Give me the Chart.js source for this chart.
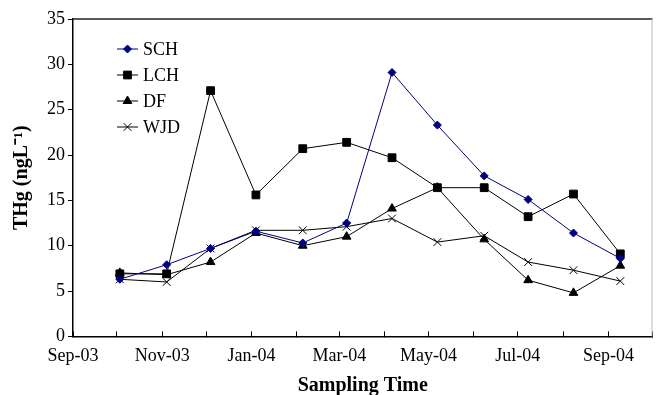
<!DOCTYPE html>
<html>
<head>
<meta charset="utf-8">
<script src="https://cdn.jsdelivr.net/npm/chart.js@4.4.1/dist/chart.umd.min.js"></script>
<style>
  html, body { margin: 0; padding: 0; background: #fff; }
  #wrap { width: 659px; height: 395px; }
</style>
</head>
<body>
<div id="wrap"><canvas id="chart" width="659" height="395"></canvas></div>
<script>
// sampling dates (one per month) and THg values, ng/L
var sampleDates = ['2003-10-03', '2003-11-04', '2003-12-04', '2004-01-04', '2004-02-05', '2004-03-06',
                   '2004-04-06', '2004-05-07', '2004-06-08', '2004-07-08', '2004-08-08', '2004-09-09'];
var schValues = [6.3, 7.9, 9.7, 11.6, 10.3, 12.5, 29.1, 23.3, 17.7, 15.1, 11.4, 8.6];
var lchValues = [6.9, 6.9, 27.1, 15.6, 20.7, 21.4, 19.7, 16.4, 16.4, 13.2, 15.7, 9.1];
var dfValues  = [7.0, 6.8, 8.2, 11.4, 10.0, 11.0, 14.1, 16.4, 10.7, 6.2, 4.8, 7.8];
var wjdValues = [6.3, 6.0, 9.7, 11.7, 11.7, 12.1, 13.0, 10.4, 11.1, 8.2, 7.3, 6.1];

// x axis: a tick every month, a label every second month
var tickMonths = ['2003-09-01', '2003-10-01', '2003-11-01', '2003-12-01', '2004-01-01', '2004-02-01', '2004-03-01',
                  '2004-04-01', '2004-05-01', '2004-06-01', '2004-07-01', '2004-08-01', '2004-09-01', '2004-10-01'];
var tickLabels = ['Sep-03', '', 'Nov-03', '', 'Jan-04', '', 'Mar-04', '', 'May-04', '', 'Jul-04', '', 'Sep-04', ''];

var SERIF = "'Times New Roman', 'Liberation Serif', serif";

function dayNum(s) {
    var p = s.split('-');
    return (Date.UTC(+p[0], +p[1] - 1, +p[2]) - Date.UTC(2003, 8, 1)) / 86400000;
}
var xDays = sampleDates.map(dayNum);
var tickDays = tickMonths.map(dayNum);

function pts(vals) {
    return vals.map(function (v, i) { return { x: xDays[i], y: v }; });
}

// top + right frame of the plot
var framePlugin = {
    id: 'frame',
    afterDraw: function (chart) {
        var a = chart.chartArea, ctx = chart.ctx;
        ctx.save();
        ctx.lineWidth = 1.5;
        ctx.strokeStyle = '#222';
        ctx.beginPath();
        ctx.moveTo(a.left, a.top);
        ctx.lineTo(a.right, a.top);
        ctx.stroke();
        ctx.lineWidth = 1;
        ctx.strokeStyle = '#bbb';
        ctx.beginPath();
        ctx.moveTo(a.right - 0.5, a.top);
        ctx.lineTo(a.right - 0.5, a.bottom);
        ctx.stroke();
        ctx.restore();
    }
};

// legend inside the plot, line + marker + label
var insideLegend = {
    id: 'insideLegend',
    afterDraw: function (chart) {
        var a = chart.chartArea, ctx = chart.ctx;
        ctx.save();
        ctx.font = '18px ' + SERIF;
        ctx.textBaseline = 'middle';
        chart.data.datasets.forEach(function (ds, i) {
            var y = a.top + 30 + i * 26;
            var x0 = a.left + 44, x1 = a.left + 65;
            ctx.strokeStyle = ds.borderColor;
            ctx.lineWidth = 1;
            ctx.beginPath();
            ctx.moveTo(x0, y);
            ctx.lineTo(x1, y);
            ctx.stroke();
            ctx.fillStyle = ds.pointBackgroundColor;
            ctx.strokeStyle = ds.pointBorderColor;
            ctx.lineWidth = 1;
            Chart.helpers.drawPoint(ctx, { pointStyle: ds.pointStyle, radius: ds.pointRadius, borderWidth: 1, rotation: 0 }, (x0 + x1) / 2, y);
            ctx.fillStyle = '#000';
            ctx.fillText(ds.label, a.left + 70, y + 1);
        });
        ctx.restore();
    }
};

function series(label, vals, color, style, r) {
    return {
        label: label,
        data: pts(vals),
        borderColor: color,
        backgroundColor: color,
        borderWidth: 1,
        pointStyle: style,
        pointRadius: r,
        pointHoverRadius: r,
        pointBackgroundColor: color,
        pointBorderColor: color,
        pointBorderWidth: 1,
        tension: 0
    };
}

new Chart(document.getElementById('chart'), {
    type: 'line',
    data: {
        datasets: [
            series('SCH', schValues, '#000080', 'rectRot', 4),
            series('LCH', lchValues, '#000000', 'rect', 5.5),
            series('DF', dfValues, '#000000', 'triangle', 5),
            series('WJD', wjdValues, '#000000', 'crossRot', 5.5)
        ]
    },
    options: {
        responsive: false,
        animation: false,
        layout: { padding: { top: 19, right: 1, left: 10, bottom: 0 } },
        plugins: { legend: { display: false }, tooltip: { enabled: false } },
        scales: {
            x: {
                type: 'linear',
                min: 0,
                max: tickDays[tickDays.length - 1],
                afterBuildTicks: function (scale) {
                    scale.ticks = tickDays.map(function (d) { return { value: d }; });
                },
                afterFit: function (scale) {
                    scale.paddingRight = 0;
                },
                ticks: {
                    autoSkip: false,
                    maxRotation: 0,
                    padding: 14,
                    color: '#000',
                    font: { family: SERIF, size: 18 },
                    callback: function (v, i) { return tickLabels[i]; }
                },
                grid: { drawOnChartArea: false, tickLength: -5, tickColor: '#000', tickWidth: 1 },
                border: { color: '#000', width: 1.5 },
                title: {
                    display: true,
                    text: 'Sampling Time',
                    color: '#000',
                    font: { family: SERIF, size: 20, weight: 'bold' },
                    padding: { top: -7, bottom: -3 }
                }
            },
            y: {
                min: 0,
                max: 35,
                ticks: { stepSize: 5, padding: 3, color: '#000', font: { family: SERIF, size: 18 } },
                grid: { drawOnChartArea: false, tickLength: 5, tickColor: '#000', tickWidth: 1 },
                border: { color: '#000', width: 1.5 },
                title: {
                    display: true,
                    text: 'THg (ngL\u207B\u00B9)',
                    color: '#000',
                    font: { family: SERIF, size: 20, weight: 'bold' },
                    padding: { top: 0, bottom: 10 }
                }
            }
        }
    },
    plugins: [framePlugin, insideLegend]
});
</script>
</body>
</html>
